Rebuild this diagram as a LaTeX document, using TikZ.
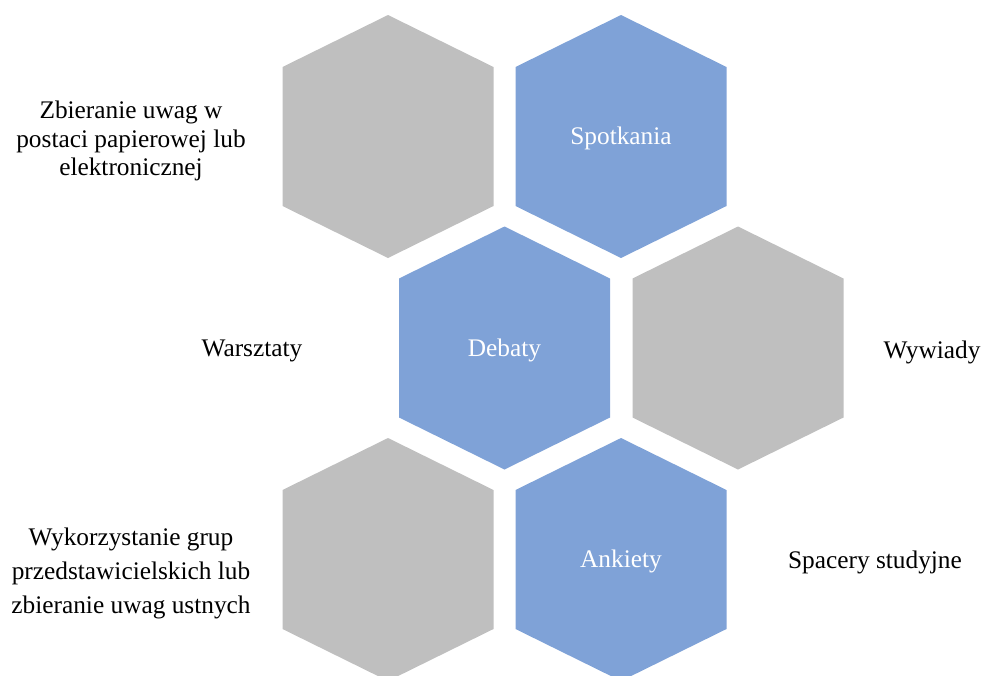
\documentclass[tikz,border=0pt]{standalone}
\usepackage{fontspec}
\setmainfont{Liberation Serif}
\usepackage{tikz}
\usepackage{xcolor}
\usetikzlibrary{calc}
\definecolor{cellgreyc}{HTML}{BFBFBF}
\definecolor{cellbluec}{HTML}{7FA2D7}
\colorlet{cellgrey}{cellgreyc}
\colorlet{cellblue}{cellbluec}
\tikzstyle{greycell} =[
    fill=cellgrey
    ]
\tikzstyle{bluecell} =[
    fill=cellblue
    ]
\tikzstyle{celltext} =[
    text=white,
    font=\fontsize{19}{21.5}\selectfont
    ]
\tikzstyle{sidetext} =[
    text=black,
    align=center,
    font=\fontsize{19}{21.5}\selectfont
    ]
\newcommand{\hexcell}[2]{% style, centre
\fill[#1] ($(#2)+(0,-121.5)$) -- ++(105.5,52) -- ++(0,139)
    -- ++(-105.5,52) -- ++(-105.5,-52) -- ++(0,-139) -- cycle;
}

\begin{document}
\begin{tikzpicture}[x=0.75pt, y=-0.75pt]
\useasboundingbox (0,0) rectangle (981,675);
\clip (0,0) rectangle (981,675);

\coordinate (hexa) at (388,136.5);
\coordinate (hexb) at (621,136.5);
\coordinate (hexc) at (504.5,348);
\coordinate (hexd) at (738,348);
\coordinate (hexe) at (388,559.5);
\coordinate (hexf) at (621,559.5);

\hexcell{greycell}{hexa}
\hexcell{bluecell}{hexb}
\hexcell{bluecell}{hexc}
\hexcell{greycell}{hexd}
\hexcell{greycell}{hexe}
\hexcell{bluecell}{hexf}

\node[celltext] (spotkania) at ($(hexb)+(0,2)$) {Spotkania};
\node[celltext] (debaty) at ($(hexc)+(0,2)$) {Debaty};
\node[celltext] (ankiety) at ($(hexf)+(0,2)$) {Ankiety};

\node[sidetext] (zbieranie) at (131,141) {Zbieranie uwag w\\
    postaci papierowej lub\\ elektronicznej};
\node[sidetext] (warsztaty) at (252,351) {Warsztaty};
\node[sidetext] (wywiady) at (932,352) {Wywiady};
\node[sidetext] (grupy) at (131,573) {Wykorzystanie grup\\[4pt]
    przedstawicielskich lub\\[4pt] zbieranie uwag ustnych};
\node[sidetext] (spacery) at (875,562) {Spacery studyjne};
\end{tikzpicture}
\end{document}
